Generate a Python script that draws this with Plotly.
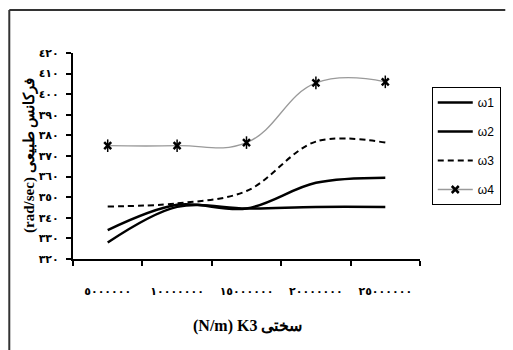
import plotly.graph_objects as go

# Stiffness K3 categories (N/m) and natural frequencies (rad/sec)
k3_labels = ["٥٠٠٠٠٠٠", "١٠٠٠٠٠٠٠", "١٥٠٠٠٠٠٠", "٢٠٠٠٠٠٠٠", "٢٥٠٠٠٠٠٠"]
omega1 = [334, 346.3, 344.5, 357, 359.5]
omega2 = [328, 345.3, 344.5, 345.3, 345.3]
omega3 = [345.5, 347, 353, 377, 376.5]
omega4 = [375, 375, 376.5, 405.5, 406]

y_tick_vals = [320, 330, 340, 350, 360, 370, 380, 390, 400, 410, 420]
y_tick_text = ["٣٢٠", "٣٣٠", "٣٤٠", "٣٥٠", "٣٦٠", "٣٧٠", "٣٨٠", "٣٩٠", "٤٠٠", "٤١٠", "٤٢٠"]

W, H = 513, 350
ML, MR, MT, MB = 73, 86, 53, 91
PW, PH = W - ML - MR, H - MT - MB


def px_x(px):
    return (px - ML) / PW


def px_y(py):
    return (H - MB - py) / PH


fig = go.Figure()
fig.add_trace(go.Scatter(x=k3_labels, y=omega1, name="ω1", mode="lines",
                         line=dict(color="black", width=2.5, shape="spline", smoothing=1),
                         legendgroup="a"))
fig.add_trace(go.Scatter(x=k3_labels, y=omega2, name="ω2", mode="lines",
                         line=dict(color="black", width=2.5, shape="spline", smoothing=1),
                         legendgroup="b"))
fig.add_trace(go.Scatter(x=k3_labels, y=omega3, name="ω3", mode="lines",
                         line=dict(color="black", width=2, dash="6px,4px", shape="spline", smoothing=1),
                         legendgroup="c"))
fig.add_trace(go.Scatter(x=k3_labels, y=omega4, name="ω4", mode="lines+markers",
                         line=dict(color="#9a9a9a", width=1.3, shape="spline", smoothing=1.2),
                         marker=dict(symbol="x-thin-open", size=7, color="black",
                                     line=dict(color="black", width=2.5)),
                         legendgroup="d"))
# vertical stroke completing the asterisk-style markers of ω4
fig.add_trace(go.Scatter(x=k3_labels, y=omega4, mode="markers", showlegend=False,
                         marker=dict(symbol="line-ns-open", size=9, color="black",
                                     line=dict(color="black", width=1.5)),
                         legendgroup="d", hoverinfo="skip"))

fig.update_layout(
    width=W, height=H,
    margin=dict(l=ML, r=MR, t=MT, b=MB),
    paper_bgcolor="white", plot_bgcolor="white",
    showlegend=True,
    legend=dict(x=px_x(439), y=px_y(87), xanchor="left", yanchor="top",
                bordercolor="black", borderwidth=1, bgcolor="white",
                font=dict(family="Liberation Sans", size=12, color="black"),
                traceorder="grouped", tracegroupgap=10, itemwidth=35),
    xaxis=dict(type="category", range=[-0.5, 4.5], tickson="boundaries",
               ticks="outside", ticklen=5, tickwidth=2, tickcolor="black",
               showline=True, linecolor="black", linewidth=2,
               showgrid=False, zeroline=False, ticklabelstandoff=21,
               tickfont=dict(family="DejaVu Sans", size=11, color="black", weight="bold")),
    yaxis=dict(range=[320, 420], tickvals=y_tick_vals, ticktext=y_tick_text,
               ticks="outside", ticklen=5, tickwidth=2, tickcolor="black",
               showline=True, linecolor="black", linewidth=2,
               showgrid=False, zeroline=False, ticklabelstandoff=5,
               tickfont=dict(family="DejaVu Sans", size=11, color="black", weight="bold")),
    annotations=[
        dict(text="(rad/sec) فرکانس طبیعی", x=px_x(28), y=px_y(155),
             xref="paper", yref="paper", xanchor="center", yanchor="middle",
             showarrow=False, textangle=-90,
             font=dict(family="Liberation Serif", size=15, color="black", weight="bold")),
        dict(text="(N/m) K3 سختی", x=px_x(251), y=px_y(326),
             xref="paper", yref="paper", xanchor="center", yanchor="middle",
             showarrow=False,
             font=dict(family="Liberation Serif", size=16, color="black", weight="bold")),
    ],
    shapes=[
        dict(type="line", xref="paper", yref="paper", x0=px_x(8), x1=px_x(514),
             y0=px_y(10), y1=px_y(10), line=dict(color="#333333", width=2)),
        dict(type="line", xref="paper", yref="paper", x0=px_x(8), x1=px_x(8),
             y0=px_y(10), y1=px_y(351), line=dict(color="#333333", width=2)),
    ],
)

fig.write_html("out.html")
